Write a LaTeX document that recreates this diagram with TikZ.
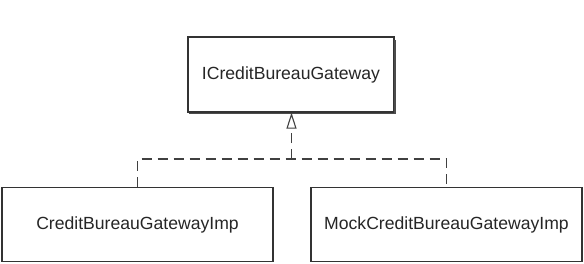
\documentclass[tikz,border=0pt]{standalone}
\usepackage{fontspec}
\setmainfont{Liberation Sans}
\usetikzlibrary{arrows.meta}
\begin{document}
\begin{tikzpicture}[x=1pt,y=-1pt,
  umlbox/.style={draw=black!80, line width=1.2pt, fill=white, inner sep=0pt,
    font=\fontsize{17.6}{20}\selectfont, text=black!85},
  realize/.style={draw=black!75, line width=1.1pt, dash pattern=on 10pt off 6pt},
  opentip/.style={-{Triangle[open, length=16pt, width=10pt, line width=1.1pt]}}]
\useasboundingbox (0,0) rectangle (584,263);
\node[umlbox, minimum width=206pt, minimum height=75pt] (top) at (291,74.5) {ICreditBureauGateway};
\node[umlbox, minimum width=271pt, minimum height=74pt] (l) at (137.5,224.5) {CreditBureauGatewayImp};
\node[umlbox, minimum width=271pt, minimum height=74pt] (r) at (446.5,224.5) {MockCreditBureauGatewayImp};
\draw[black!70, line width=1.2pt] ([xshift=1.5pt]top.south west) ++(0,1.2) -- ++(206,0) -- ++(0,-74);
\coordinate (bus) at (291.5,159);
\draw[realize] (l.north) |- (bus) -| (r.north);
\draw[realize, opentip] (bus) -- (bus |- top.south);
\end{tikzpicture}
\end{document}
